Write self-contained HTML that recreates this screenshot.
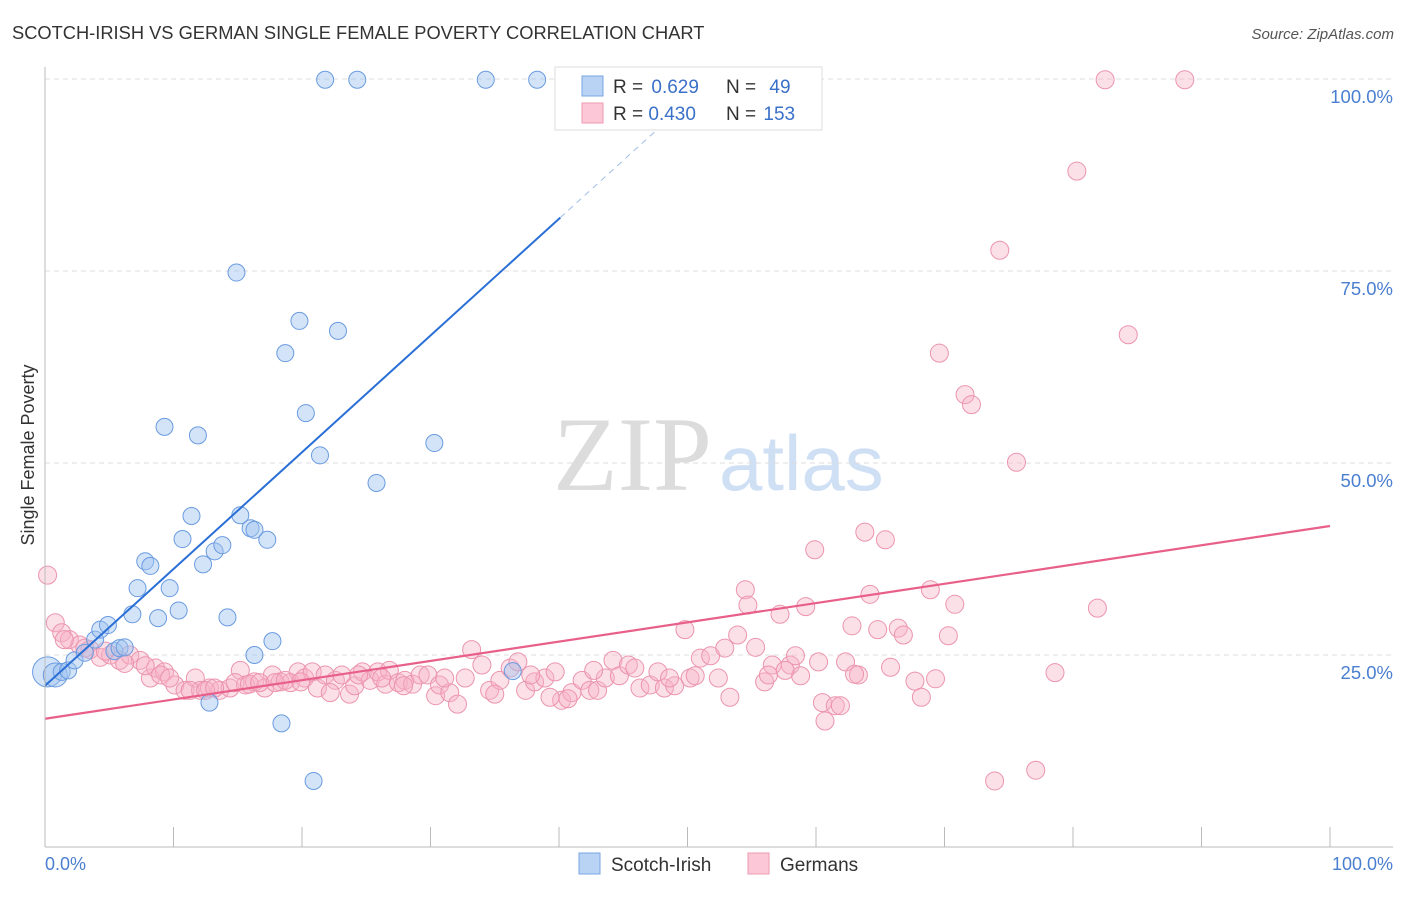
<!DOCTYPE html>
<html><head><meta charset="utf-8"><style>
body{margin:0;background:#fff;font-family:"Liberation Sans",sans-serif}
svg text{font-family:"Liberation Sans",sans-serif}
</style></head><body>
<svg id="c" width="1406" height="892" xmlns="http://www.w3.org/2000/svg">
<text x="12" y="39" font-size="18.3" fill="#333">SCOTCH-IRISH VS GERMAN SINGLE FEMALE POVERTY CORRELATION CHART</text>
<text x="1394" y="39" font-size="15" fill="#555" font-style="italic" text-anchor="end">Source: ZipAtlas.com</text>
<text x="553" y="490" font-size="106" fill="#dcdcdc" style="font-family:'Liberation Serif',serif">ZIP</text>
<text x="719" y="490" font-size="78" fill="#cfe0f5">atlas</text>
<g id="grid"></g>
<g id="pts"></g>
<g id="lines"></g>
<line x1="45" y1="67" x2="45" y2="847" stroke="#bbb"/>
<line x1="45" y1="847" x2="1393" y2="847" stroke="#bbb"/>
<text x="28" y="455" font-size="18" fill="#333" text-anchor="middle" transform="rotate(-90 28 455)" dy="6">Single Female Poverty</text>
<text x="45" y="870" font-size="18" fill="#4a7fd0">0.0%</text>
<text x="1393" y="870" font-size="18" fill="#4a7fd0" text-anchor="end">100.0%</text>
<g>
<rect x="555" y="67" width="267" height="63" fill="#fff" stroke="#ddd"/>
<rect x="582" y="76" width="21" height="20" fill="#b9d3f5" stroke="#7aa6e3"/>
<rect x="582" y="103" width="21" height="20" fill="#fcc8d7" stroke="#ee9ab2"/>
<text x="613" y="93" font-size="19" fill="#333">R = <tspan fill="#3a70c8" dx="3">0.629</tspan></text>
<text x="726" y="93" font-size="19" fill="#333">N = <tspan fill="#3a70c8" dx="8">49</tspan></text>
<text x="613" y="120" font-size="19" fill="#333">R = <tspan fill="#3a70c8">0.430</tspan></text>
<text x="726" y="120" font-size="19" fill="#333">N = <tspan fill="#3a70c8" dx="2">153</tspan></text>
</g>
<g>
<rect x="579" y="853" width="21" height="21" fill="#b9d3f5" stroke="#7aa6e3"/>
<text x="611" y="871" font-size="19" fill="#333">Scotch-Irish</text></g>
<g>
<rect x="748" y="853" width="21" height="21" fill="#fcc8d7" stroke="#ee9ab2"/>
<text x="780" y="871" font-size="19" fill="#333">Germans</text></g>
</svg>
<script>
const yTicks=[25,50,75,100];
const yTickLabels=["25.0%","50.0%","75.0%","100.0%"];
const xTicks=[0,10,20,30,40,50,60,70,80,90,100];
const scotchX=[0.2,0.8,1.3,1.8,2.3,3.1,3.9,4.3,4.9,5.4,5.8,6.2,6.8,7.2,7.8,8.2,8.8,9.3,9.7,10.4,10.7,11.4,11.9,12.3,12.8,13.2,13.8,14.2,14.9,15.2,16.0,16.3,17.3,17.7,18.4,18.7,19.8,20.3,20.9,21.4,21.8,22.8,24.3,25.8,30.3,34.3,36.4,38.3,16.3];
const scotchY=[22.8,22.4,22.8,23.0,24.3,25.3,27.0,28.3,28.9,25.5,25.9,26.0,30.3,33.7,37.2,36.6,29.8,54.7,33.7,30.8,40.1,43.1,53.6,36.8,18.8,38.5,39.3,29.9,74.8,43.2,41.5,41.3,40.0,26.8,16.1,64.3,68.5,56.5,8.6,51.0,99.9,67.2,99.9,47.4,52.6,99.9,22.9,99.9,25.0];
const germanX=[0.2,0.8,1.3,1.9,2.7,3.5,4.3,5.1,5.8,6.6,7.4,8.2,8.6,9.3,10.1,10.9,11.7,12.1,12.8,13.6,14.4,15.2,15.6,16.3,17.1,17.7,18.3,19.1,19.7,20.2,20.8,21.2,21.8,22.6,23.1,23.7,24.1,24.7,25.3,25.9,26.5,26.8,27.5,28.0,28.6,29.2,29.8,30.4,30.7,31.5,32.1,32.7,33.2,34.0,34.6,35.4,36.2,36.8,37.4,38.1,38.9,39.7,40.2,41.0,41.8,42.4,43.0,43.6,44.2,44.7,45.4,45.9,46.3,47.1,47.7,48.2,49.0,49.8,50.2,51.0,51.8,52.4,52.9,53.3,53.9,54.5,54.7,55.3,56.0,56.6,57.2,58.0,58.4,58.8,59.2,59.9,60.2,60.7,60.5,61.5,61.9,62.3,62.8,63.3,63.8,64.2,64.8,65.4,65.8,66.4,66.8,67.7,68.2,68.9,69.3,69.6,70.3,70.8,71.6,72.1,73.9,74.3,75.6,77.1,78.6,80.3,81.9,82.5,84.3,88.7,1.5,3.1,4.7,6.2,7.8,9.0,9.7,11.3,12.5,13.2,14.8,15.9,16.7,17.9,18.7,19.9,22.2,24.4,26.2,27.9,31.1,35.0,37.8,39.3,40.7,42.7,48.6,50.6,57.6,56.3,63.0];
const germanY=[35.4,29.2,27.9,27.0,26.3,25.7,24.7,25.0,24.3,25.0,24.3,22.0,23.3,22.8,21.1,20.4,22.0,20.4,20.7,20.4,20.7,23.0,21.1,21.5,20.7,22.4,21.5,21.4,22.8,22.0,22.8,20.7,22.4,21.7,22.4,19.9,21.0,22.8,21.7,22.8,21.2,23.0,21.4,21.7,21.2,22.4,22.4,19.7,21.1,20.1,18.6,22.0,25.7,23.7,20.4,21.7,23.3,24.1,20.4,21.5,22.0,22.8,19.1,20.1,21.7,20.4,20.4,22.0,24.3,22.3,23.7,23.3,20.7,21.1,22.8,20.7,21.0,28.3,22.0,24.6,24.9,22.0,25.9,19.5,27.6,33.5,31.5,26.0,21.5,23.7,30.3,23.7,24.9,22.3,31.3,38.7,24.1,16.4,18.8,18.4,18.4,24.1,28.8,22.4,41.0,32.9,28.3,40.0,23.4,28.5,27.6,21.6,19.5,33.5,21.9,64.3,27.5,31.6,58.9,57.6,8.6,77.7,50.1,10.0,22.7,88.0,31.1,99.9,66.7,99.9,27.0,25.9,25.5,23.9,23.6,22.4,22.0,20.4,20.4,20.7,21.4,21.2,21.4,21.4,21.7,21.5,20.1,22.4,22.0,21.0,22.0,19.9,22.4,19.5,19.3,23.0,22.0,22.3,23.0,22.4,22.5];
const scotchTrend=[21.0,1.52];
const germanTrend=[16.7,0.251];
const NS="http://www.w3.org/2000/svg";
function xs(v){return 45+v*12.85;}
function ys(v){return 847-v*7.68;}
function mk(t,a,p){const e=document.createElementNS(NS,t);for(const k in a)e.setAttribute(k,a[k]);p.appendChild(e);return e;}
const grid=document.getElementById('grid');
yTicks.forEach((v,i)=>{
 const l=mk('line',{x1:45,x2:1393,y1:ys(v),y2:ys(v),stroke:'#ddd','stroke-dasharray':'5,4'},grid);
 
 
 const t=mk('text',{x:1393,y:ys(v)+24,'font-size':18.5,fill:'#4a7fd0','text-anchor':'end'},grid);
 t.textContent=yTickLabels[i];
 
 
});
xTicks.forEach(v=>{
 const l=mk('line',{x1:xs(v),x2:xs(v),y1:827,y2:847,stroke:'#bbb'},grid);
 
 
});
const pts=document.getElementById('pts');
germanX.forEach((x,i)=>{
 const c=mk('circle',{cx:xs(x),cy:ys(germanY[i]),r:9,fill:'rgba(248,178,198,0.4)',stroke:'#eb94ae','stroke-width':1},pts);
 
 
});
scotchX.forEach((x,i)=>{
 const r=i===0?15:(i===1?12:8.5);
 const c=mk('circle',{cx:xs(x),cy:ys(scotchY[i]),r:r,fill:'rgba(160,196,240,0.45)',stroke:'#6a9be0','stroke-width':1},pts);
 
 
});
const ln=document.getElementById('lines');
const b1=mk('line',{x1:xs(0),y1:ys(scotchTrend[0]),x2:xs(40.1),y2:ys(scotchTrend[0]+scotchTrend[1]*40.1),stroke:'#2a6fd6','stroke-width':2},ln);


const b2=mk('line',{x1:xs(40.1),y1:ys(scotchTrend[0]+scotchTrend[1]*40.1),x2:xs(48),y2:ys(scotchTrend[0]+scotchTrend[1]*48),stroke:'#9dbde8','stroke-width':1,'stroke-dasharray':'6,5'},ln);


const p1=mk('line',{x1:xs(0),y1:ys(germanTrend[0]),x2:xs(100),y2:ys(germanTrend[0]+germanTrend[1]*100),stroke:'#e8608a','stroke-width':2.2},ln);


</script>
</body></html>
